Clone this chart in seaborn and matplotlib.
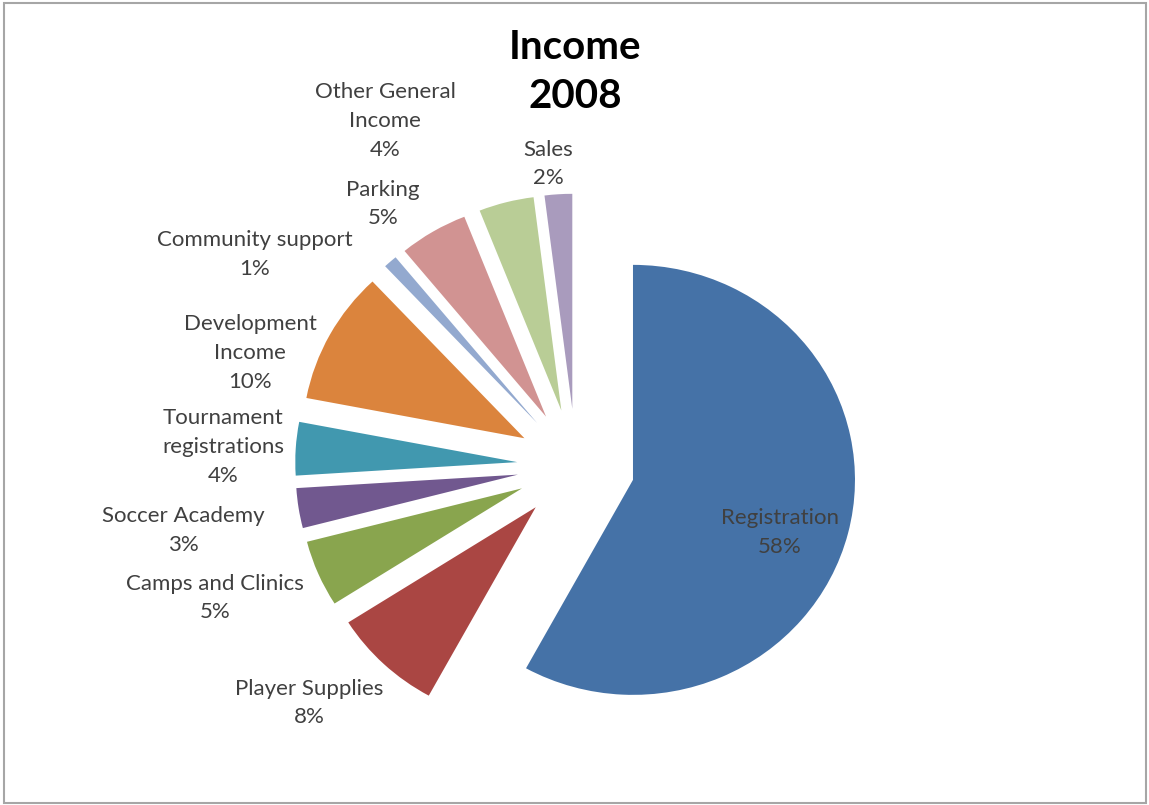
import matplotlib
matplotlib.use("Agg")
import matplotlib.pyplot as plt
from matplotlib.patches import Rectangle
import seaborn as sns

# Income 2008 data (percent of total)
categories = ['Registration', 'Player Supplies', 'Camps and Clinics', 'Soccer Academy',
              'Tournament\nregistrations', 'Development\nIncome', 'Community support',
              'Parking', 'Other General\nIncome', 'Sales']
shares = [58, 8, 5, 3, 4, 10, 1, 5, 4, 2]
slice_colors = ['#4572A7', '#AA4643', '#89A54E', '#71588F', '#4198AF',
                '#DB843D', '#93A9CF', '#D19392', '#B9CD96', '#A99BBD']

# label placement (data units, pie radius = 1), Excel "best fit" look
label_pos = [(0.919, -0.309), (-1.203, -1.104), (-1.626, -0.615), (-1.770, -0.30),
             (-1.590, 0.087), (-1.468, 0.524), (-1.446, 0.984), (-0.869, 1.217),
             (-0.860, 1.603), (-0.126, 1.403)]

sns.set_theme(style='white')
plt.rcParams['font.family'] = ['Lato', 'DejaVu Sans']

fig = plt.figure(figsize=(11.49, 8.05), dpi=100)
ax = fig.add_axes([0, 0, 1, 1])

total = sum(shares)
labels = [f'{c}\n{round(v / total * 100)}%' for c, v in zip(categories, shares)]

wedges, texts = ax.pie(shares, labels=labels, colors=sns.color_palette(slice_colors),
                       explode=[0.265] * len(shares), startangle=90, counterclock=False,
                       wedgeprops=dict(linewidth=0), textprops=dict(fontsize=16, color='#404040'))

for t, (x, y) in zip(texts, label_pos):
    t.set_position((x, y))
    t.set_ha('center')
    t.set_va('center')
    t.set_multialignment('center')
    t.set_linespacing(1.55)

ax.text(-0.005, 1.831, 'Income\n2008', ha='center', va='center', fontsize=29,
        fontweight='bold', color='black', linespacing=1.42)

# original picture is a bit wider than tall: 222 px/unit across, 215 px/unit down
cx, cy = 576, 465.7
ax.set_xlim(-cx / 222, (1149 - cx) / 222)
ax.set_ylim((cy - 805) / 215, cy / 215)
ax.set_aspect('auto')
ax.axis('off')

# chart border
fig.patches.append(Rectangle((4 / 1149, 2 / 805), 1142 / 1149, 800 / 805,
                             transform=fig.transFigure, fill=False,
                             edgecolor='#A6A6A6', linewidth=1.5))

fig.savefig('out.png', dpi=100)
